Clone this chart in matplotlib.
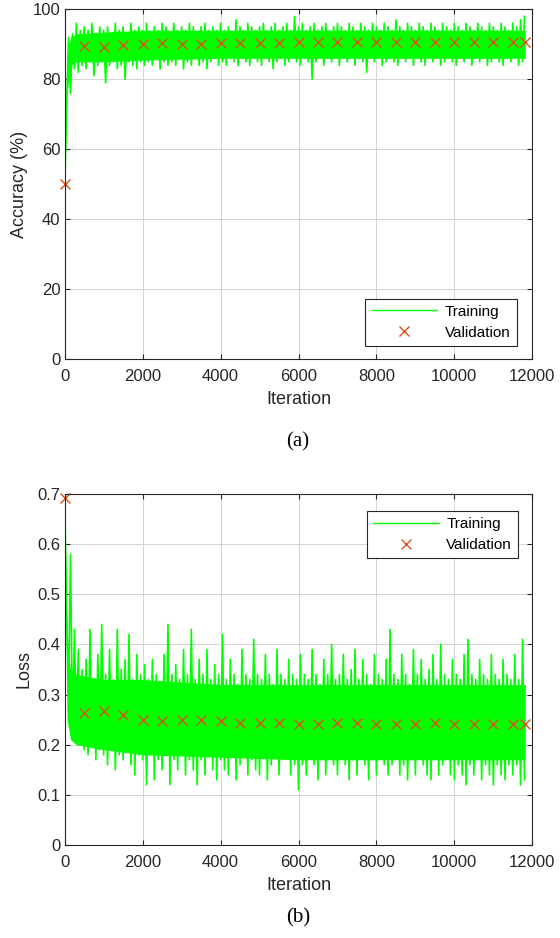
import numpy as np
import matplotlib
matplotlib.use("Agg")
import matplotlib.pyplot as plt
from matplotlib.lines import Line2D
from matplotlib.ticker import FuncFormatter

plt.rcParams['font.family'] = ['Liberation Sans', 'DejaVu Sans']

# training curves, one value every 50 iterations (peaks / troughs)
train_step = 50
acc_train = [
    48, 72, 92, 76, 93, 83, 96, 82, 94, 84, 95, 83, 94, 85, 96, 81, 93, 84, 95, 85,
    94, 79, 95, 84, 93, 85, 96, 83, 94, 84, 95, 80, 93, 85, 96, 84, 94, 83, 95, 85,
    94, 84, 96, 85, 93, 84, 95, 86, 94, 83, 96, 85, 95, 84, 93, 85, 96, 84, 94, 86,
    95, 83, 94, 85, 96, 84, 95, 86, 93, 84, 95, 85, 96, 83, 94, 85, 95, 86, 94, 84,
    96, 85, 94, 84, 95, 86, 93, 85, 97, 84, 95, 86, 94, 85, 96, 84, 95, 86, 94, 85,
    95, 84, 96, 86, 94, 85, 95, 83, 96, 85, 94, 86, 95, 84, 96, 85, 94, 86, 98, 85,
    95, 84, 96, 86, 94, 85, 95, 80, 96, 85, 94, 86, 95, 84, 96, 86, 94, 85, 95, 86,
    96, 84, 95, 86, 94, 85, 96, 86, 95, 84, 94, 86, 96, 85, 95, 82, 94, 86, 96, 85,
    95, 86, 94, 84, 96, 85, 95, 86, 94, 85, 97, 84, 95, 86, 94, 85, 96, 86, 95, 84,
    94, 86, 96, 85, 95, 84, 94, 86, 96, 85, 95, 86, 94, 84, 96, 85, 95, 86, 94, 85,
    96, 84, 95, 86, 94, 85, 96, 86, 95, 84, 94, 86, 96, 85, 95, 86, 94, 84, 96, 85,
    95, 86, 94, 85, 96, 84, 95, 86, 94, 85, 96, 86, 95, 84, 97, 85, 98,
]
loss_train = [
    0.69, 0.47, 0.30, 0.58, 0.23, 0.43, 0.22, 0.39, 0.21, 0.35, 0.19, 0.37, 0.18, 0.43, 0.20, 0.33, 0.17, 0.38, 0.19, 0.44,
    0.18, 0.34, 0.16, 0.39, 0.19, 0.33, 0.15, 0.43, 0.18, 0.35, 0.17, 0.37, 0.19, 0.42, 0.16, 0.33, 0.14, 0.38, 0.18, 0.34,
    0.17, 0.36, 0.12, 0.33, 0.18, 0.37, 0.13, 0.34, 0.17, 0.32, 0.15, 0.38, 0.19, 0.44, 0.12, 0.34, 0.17, 0.36, 0.15, 0.33,
    0.18, 0.39, 0.14, 0.34, 0.17, 0.43, 0.15, 0.33, 0.12, 0.37, 0.17, 0.34, 0.14, 0.39, 0.18, 0.33, 0.15, 0.36, 0.13, 0.34,
    0.17, 0.42, 0.15, 0.33, 0.14, 0.37, 0.18, 0.34, 0.13, 0.32, 0.16, 0.39, 0.18, 0.34, 0.14, 0.33, 0.17, 0.41, 0.15, 0.34,
    0.14, 0.33, 0.18, 0.38, 0.13, 0.34, 0.16, 0.32, 0.18, 0.39, 0.14, 0.34, 0.17, 0.33, 0.18, 0.37, 0.14, 0.34, 0.16, 0.33,
    0.11, 0.38, 0.16, 0.34, 0.14, 0.33, 0.18, 0.39, 0.16, 0.34, 0.13, 0.32, 0.17, 0.37, 0.14, 0.34, 0.18, 0.40, 0.16, 0.33,
    0.14, 0.34, 0.18, 0.38, 0.16, 0.33, 0.13, 0.35, 0.17, 0.39, 0.14, 0.33, 0.18, 0.37, 0.16, 0.34, 0.13, 0.32, 0.17, 0.38,
    0.14, 0.34, 0.18, 0.33, 0.16, 0.37, 0.14, 0.43, 0.16, 0.34, 0.18, 0.33, 0.14, 0.38, 0.16, 0.34, 0.13, 0.32, 0.17, 0.39,
    0.14, 0.34, 0.18, 0.37, 0.16, 0.33, 0.14, 0.35, 0.13, 0.38, 0.17, 0.33, 0.14, 0.40, 0.16, 0.34, 0.18, 0.33, 0.14, 0.37,
    0.13, 0.34, 0.16, 0.33, 0.14, 0.38, 0.12, 0.41, 0.16, 0.34, 0.14, 0.33, 0.17, 0.37, 0.13, 0.34, 0.16, 0.33, 0.14, 0.38,
    0.12, 0.34, 0.16, 0.33, 0.14, 0.37, 0.13, 0.34, 0.16, 0.33, 0.14, 0.38, 0.16, 0.33, 0.12, 0.41, 0.13,
]

# dense core of the training noise (where the green is solid)
band_iter = [0, 60, 150, 300, 1000, 2000, 4000, 6000, 8000, 10000, 11820]
acc_band_lo = [52, 76, 84, 85, 85, 85.5, 86, 86, 86, 86, 86]
acc_band_hi = [60, 87, 92, 93, 93.5, 94, 94, 94, 94, 94, 94]
loss_band_lo = [0.62, 0.25, 0.21, 0.20, 0.19, 0.18, 0.175, 0.17, 0.17, 0.17, 0.17]
loss_band_hi = [0.69, 0.40, 0.35, 0.34, 0.33, 0.33, 0.32, 0.32, 0.32, 0.32, 0.32]

# validation points
val_iter = [0, 500, 1000, 1500, 2000, 2500, 3000, 3500, 4000, 4500, 5000, 5500,
            6000, 6500, 7000, 7500, 8000, 8500, 9000, 9500, 10000, 10500, 11000,
            11500, 11820]
acc_val = [50.0, 89.6, 89.3, 89.9, 90.2, 90.5, 90.2, 90.2, 90.5, 90.5, 90.5, 90.5,
           90.6, 90.6, 90.6, 90.6, 90.6, 90.7, 90.6, 90.7, 90.7, 90.7, 90.7, 90.7, 90.7]
loss_val = [0.693, 0.263, 0.267, 0.260, 0.249, 0.247, 0.250, 0.249, 0.248, 0.243,
            0.243, 0.243, 0.242, 0.242, 0.243, 0.243, 0.242, 0.242, 0.242, 0.243,
            0.242, 0.242, 0.242, 0.242, 0.242]

x_ticks = [0, 2000, 4000, 6000, 8000, 10000, 12000]
acc_ticks = [0, 20, 40, 60, 80, 100]
loss_ticks = [0, 0.1, 0.2, 0.3, 0.4, 0.5, 0.6, 0.7]

GREEN = '#00ff00'
ORANGE = '#D95319'
DARK = '#262626'

W, H = 560, 938
fig = plt.figure(figsize=(W / 100, H / 100), dpi=100)


def px_axes(left, top, right, bottom):
    return fig.add_axes([left / W, 1 - bottom / H, (right - left) / W, (bottom - top) / H])


def style(ax):
    for s in ax.spines.values():
        s.set_color(DARK)
        s.set_linewidth(0.8)
    ax.tick_params(direction='in', length=3.5, width=0.8, color=DARK,
                   labelcolor=DARK, labelsize=12, top=True, right=True)
    ax.tick_params(axis='x', pad=7)
    ax.tick_params(axis='y', pad=3)
    ax.grid(True, color='#d4d4d4', linewidth=0.7)
    ax.set_axisbelow(True)
    ax.set_xlim(0, 12000)
    ax.set_xticks(x_ticks)


def legend(ax, loc, anchor):
    handles = [Line2D([], [], color=GREEN, lw=1.0),
               Line2D([], [], color=ORANGE, ls='none', marker='x', ms=7, mew=1.0)]
    leg = ax.legend(handles, ['Training', 'Validation'], loc=loc, bbox_to_anchor=anchor,
                    bbox_transform=ax.transAxes, fontsize=11, handlelength=4.3,
                    handletextpad=0.5, labelspacing=0.45, borderpad=0.4,
                    borderaxespad=0, fancybox=False, framealpha=1, edgecolor=DARK)
    leg.get_frame().set_linewidth(0.8)


train_x = np.arange(len(acc_train)) * train_step

# (a) accuracy
ax1 = px_axes(64.7, 9.3, 532.3, 359.3)
style(ax1)
ax1.fill_between(band_iter, acc_band_lo, acc_band_hi, color=GREEN, lw=0)
ax1.plot(train_x, acc_train, color=GREEN, lw=1.2)
ax1.plot(val_iter, acc_val, ls='none', marker='x', ms=7, mew=1.0, color=ORANGE, clip_on=False)
ax1.set_ylim(0, 100)
ax1.set_yticks(acc_ticks)
ax1.set_xlabel('Iteration', fontsize=13, color=DARK, labelpad=5)
ax1.set_ylabel('Accuracy (%)', fontsize=13, color=DARK)
ax1.yaxis.set_label_coords(-0.078, 0.5)
legend(ax1, 'lower right', (1 - 15.6 / 467.6, 13.6 / 350))
fig.text(298 / W, 1 - 442 / H, '(a)', family='Liberation Serif', fontsize=15,
         ha='center', va='center')

# (b) loss
ax2 = px_axes(64.7, 494, 532.3, 845)
style(ax2)
ax2.fill_between(band_iter, loss_band_lo, loss_band_hi, color=GREEN, lw=0)
ax2.plot(train_x, loss_train, color=GREEN, lw=1.2)
ax2.plot(val_iter, loss_val, ls='none', marker='x', ms=7, mew=1.0, color=ORANGE, clip_on=False)
ax2.set_ylim(0, 0.7)
ax2.set_yticks(loss_ticks)
ax2.yaxis.set_major_formatter(FuncFormatter(lambda v, p: '0' if v == 0 else f'{v:.1f}'))
ax2.set_xlabel('Iteration', fontsize=13, color=DARK, labelpad=5)
ax2.set_ylabel('Loss', fontsize=13, color=DARK)
ax2.yaxis.set_label_coords(-0.068, 0.5)
legend(ax2, 'upper right', (1 - 14.3 / 467.6, 1 - 17 / 351))
fig.text(298 / W, 1 - 918 / H, '(b)', family='Liberation Serif', fontsize=15,
         ha='center', va='center')

fig.savefig('out.png', dpi=100)
